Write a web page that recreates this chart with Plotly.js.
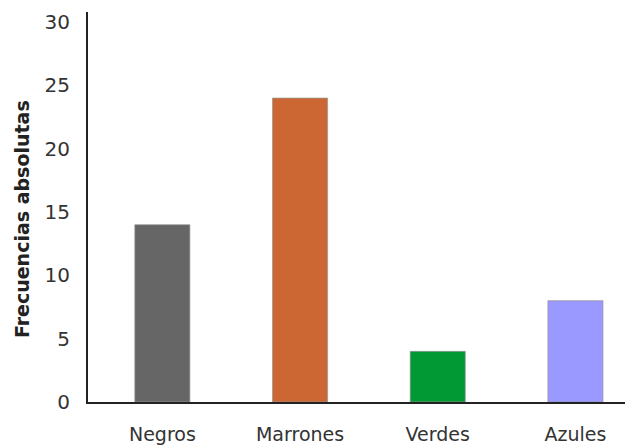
<!DOCTYPE html>
<html>
<head>
<meta charset="utf-8">
<script src="https://cdn.plot.ly/plotly-3.0.1.min.js"></script>
<style>
html,body{margin:0;padding:0;background:#fff;}
#chart{width:625px;height:448px;}
</style>
</head>
<body>
<div id="chart"></div>
<script>
const categories = ["Negros", "Marrones", "Verdes", "Azules"];
const frecuencias = [14, 24, 4, 8];
const barColors = ["#666666", "#CC6633", "#009933", "#9999FF"];
const yTickValues = [0, 5, 10, 15, 20, 25, 30];
const yTitle = "Frecuencias absolutas";

const trace = {
  type: "bar",
  x: categories,
  y: frecuencias,
  marker: {
    color: barColors,
    line: {color: "rgba(150,150,150,0.7)", width: 1}
  },
  hoverinfo: "x+y"
};

const layout = {
  width: 625,
  height: 448,
  margin: {l: 88, r: 0, t: 12, b: 46},
  paper_bgcolor: "#ffffff",
  plot_bgcolor: "#ffffff",
  showlegend: false,
  bargap: 0.6,
  font: {family: "DejaVu Sans", color: "#333333"},
  xaxis: {
    type: "category",
    range: [-0.54, 3.36],
    showline: true,
    linecolor: "#222222",
    linewidth: 2,
    showgrid: false,
    zeroline: false,
    ticks: "",
    ticklabelstandoff: 14,
    tickfont: {family: "DejaVu Sans", size: 19, color: "#333333"}
  },
  yaxis: {
    range: [0, 30.8],
    tickvals: yTickValues,
    ticktext: yTickValues.map(String),
    showline: true,
    linecolor: "#222222",
    linewidth: 2,
    showgrid: false,
    zeroline: false,
    ticks: "",
    ticklabelstandoff: 12,
    tickfont: {family: "DejaVu Sans", size: 20, color: "#333333"}
  },
  annotations: [{
    text: yTitle,
    xref: "paper", yref: "paper",
    x: 0, y: 0.469,
    xanchor: "center", yanchor: "middle",
    xshift: -66,
    textangle: -90,
    showarrow: false,
    font: {family: "DejaVu Sans", size: 19, color: "#222222", weight: "bold"}
  }]
};

Plotly.newPlot("chart", [trace], layout, {displayModeBar: false, staticPlot: true});
</script>
</body>
</html>
